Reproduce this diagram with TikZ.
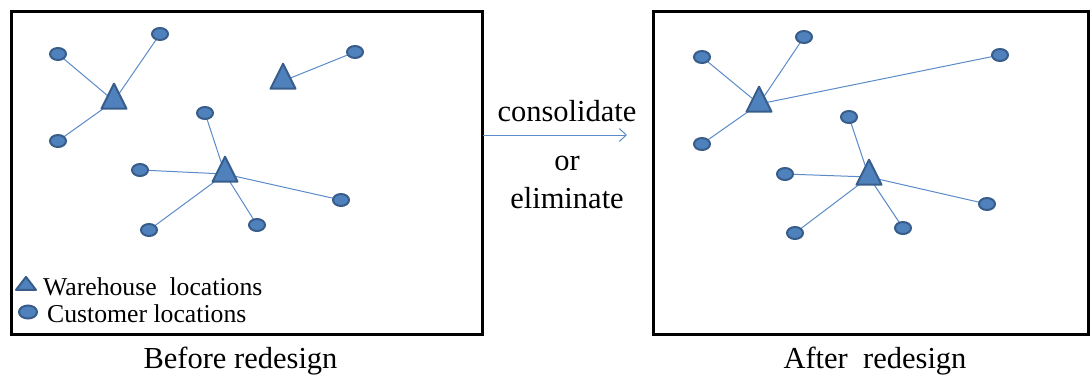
\documentclass[tikz,border=0pt]{standalone}
\usepackage{fontspec}
\setmainfont{Liberation Serif}
\usetikzlibrary{shapes.geometric,arrows.meta}
\pgfdeclarelayer{bg}
\pgfsetlayers{bg,main}
\definecolor{nodefill}{HTML}{4F81BD}
\definecolor{nodeedge}{HTML}{385D8A}
\definecolor{linkblue}{HTML}{5B8BC9}
\tikzset{
  cust/.style={ellipse, fill=nodefill, draw=nodeedge, line width=2pt,
    minimum width=16pt, minimum height=12pt, inner sep=0pt},
  wh/.style={isosceles triangle, isosceles triangle stretches,
    shape border rotate=90, fill=nodefill, draw=nodeedge, line width=2pt,
    line join=round, minimum width=25pt, minimum height=25pt, inner sep=0pt},
  link/.style={draw=linkblue, line width=1pt},
  frame/.style={draw=black, line width=3pt},
  lbl/.style={font=\fontsize{30.5}{36}\selectfont, anchor=base, inner sep=0pt},
  leg/.style={font=\fontsize{25.7}{30}\selectfont, anchor=base west, inner sep=0pt},
}
\begin{document}
\begin{tikzpicture}[x=1pt,y=-1pt]
\useasboundingbox (0,0) rectangle (1091,378);
% frames
\node[frame, minimum width=471pt, minimum height=323pt, anchor=north west, inner sep=0pt] (before) at (10,10) {};
\node[frame, minimum width=435pt, minimum height=323pt, anchor=north west, inner sep=0pt] (after) at (652,10) {};

% before redesign: warehouses
\node[wh] (a1) at (114,101) {};
\node[wh] (a2) at (283,81) {};
\node[wh] (a3) at (225,174) {};
% before redesign: customers
\node[cust] (p1) at (58,54) {};
\node[cust] (p2) at (160,34) {};
\node[cust] (p3) at (58,141) {};
\node[cust] (p4) at (355,52) {};
\node[cust] (p5) at (205,113) {};
\node[cust] (p6) at (140,170) {};
\node[cust] (p7) at (341,200) {};
\node[cust] (p8) at (149,230) {};
\node[cust] (p9) at (257,225) {};

% after redesign: warehouses
\node[wh] (b1) at (759,104) {};
\node[wh] (b2) at (869,177) {};
% after redesign: customers
\node[cust] (q1) at (702,57) {};
\node[cust] (q2) at (804,37) {};
\node[cust] (q3) at (702,144) {};
\node[cust] (q4) at (1000,55) {};
\node[cust] (q5) at (849,117) {};
\node[cust] (q6) at (785,174) {};
\node[cust] (q7) at (987,204) {};
\node[cust] (q8) at (795,233) {};
\node[cust] (q9) at (903,228) {};

\begin{pgfonlayer}{bg}
  \foreach \w/\c in {a1/p1,a1/p2,a1/p3,a2/p4,a3/p5,a3/p6,a3/p7,a3/p8,a3/p9,
                     b1/q1,b1/q2,b1/q3,b1/q4,b2/q5,b2/q6,b2/q7,b2/q8,b2/q9}
    \draw[link] (\w.center) -- (\c.center);
\end{pgfonlayer}

% legend
\node[wh, minimum width=20pt, minimum height=13pt] (lw) at (26,285) {};
\node[cust, minimum width=18pt, minimum height=13pt] (lc) at (28,312) {};
\node[leg] (lwt) at (43,295) {Warehouse\ \ locations};
\node[leg] (lct) at (47,322) {Customer locations};

% transition arrow
\coordinate (arrs) at (483,135);
\coordinate (arre) at (627,135);
\draw[link, -{Straight Barb[length=7pt,width=13pt,line width=1pt]}] (arrs) -- (arre);
\node[lbl] (t1) at (567,121) {consolidate};
\node[lbl] (t2) at (567,170) {or};
\node[lbl] (t3) at (567,208) {eliminate};

% captions
\node[lbl] (cb) at (240.5,368) {Before redesign};
\node[lbl] (ca) at (875,368) {After\ \ redesign};
\end{tikzpicture}
\end{document}
